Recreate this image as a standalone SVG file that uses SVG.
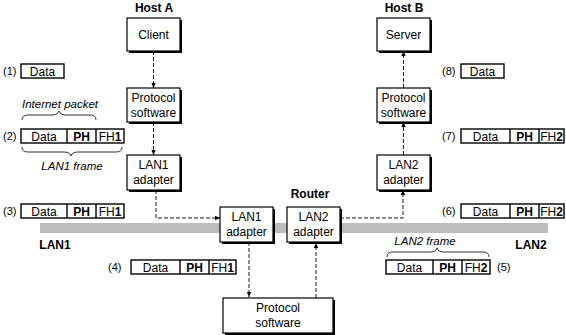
<svg xmlns="http://www.w3.org/2000/svg" width="566" height="335" viewBox="0 0 566 335">
  <style>
    .box { fill: #fff; stroke: #000; stroke-width: 1.2; }
    .shadow { fill: #000; }
    .lbl { font-family: "Liberation Sans", Arial, sans-serif; font-size: 12px; fill: #000; text-anchor: middle; }
    .title { font-family: "Liberation Sans", Arial, sans-serif; font-size: 12px; font-weight: bold; fill: #000; text-anchor: middle; }
    .num { font-family: "Liberation Sans", Arial, sans-serif; font-size: 11px; fill: #000; }
    .cap { font-family: "Liberation Sans", Arial, sans-serif; font-size: 11.5px; font-style: italic; fill: #000; text-anchor: middle; }
    .pkt { fill: #fff; stroke: #000; stroke-width: 1.4; }
    .hdr { font-family: "Liberation Sans", Arial, sans-serif; font-size: 12px; font-weight: bold; fill: #000; text-anchor: middle; }
    .flow { fill: none; stroke: #000; stroke-width: 0.9; stroke-dasharray: 4 2; }
    .brace { fill: none; stroke: #000; stroke-width: 0.8; }
  </style>
  <defs>
    <marker id="arr" viewBox="0 0 8 8" refX="7" refY="4" markerWidth="6" markerHeight="6" orient="auto" markerUnits="userSpaceOnUse">
      <path d="M0,1 L7,4 L0,7 Z" fill="#000"/>
    </marker>
  </defs>

  <!-- LAN segments -->
  <rect x="40" y="223" width="508" height="10" fill="#bdbdbd"/>
  <text class="title" x="55" y="249">LAN1</text>
  <text class="title" x="531" y="249">LAN2</text>

  <!-- Host A -->
  <text class="title" x="154" y="12">Host A</text>
  <g id="client">
    <rect class="shadow" x="129" y="20" width="53" height="33"/>
    <rect class="box" x="127" y="18" width="53" height="33"/>
    <text class="lbl" x="153.5" y="39">Client</text>
  </g>
  <g id="protoA">
    <rect class="shadow" x="129" y="90" width="53" height="34"/>
    <rect class="box" x="127" y="88" width="53" height="34"/>
    <text class="lbl" x="153.5" y="102">Protocol</text>
    <text class="lbl" x="153.5" y="117">software</text>
  </g>
  <g id="lan1A">
    <rect class="shadow" x="129" y="157" width="53" height="35"/>
    <rect class="box" x="127" y="155" width="53" height="35"/>
    <text class="lbl" x="153.5" y="169">LAN1</text>
    <text class="lbl" x="153.5" y="184">adapter</text>
  </g>

  <!-- Host B -->
  <text class="title" x="404" y="12">Host B</text>
  <g id="server">
    <rect class="shadow" x="379" y="20" width="53" height="33"/>
    <rect class="box" x="377" y="18" width="53" height="33"/>
    <text class="lbl" x="403.5" y="39">Server</text>
  </g>
  <g id="protoB">
    <rect class="shadow" x="379" y="90" width="53" height="34"/>
    <rect class="box" x="377" y="88" width="53" height="34"/>
    <text class="lbl" x="403.5" y="102">Protocol</text>
    <text class="lbl" x="403.5" y="117">software</text>
  </g>
  <g id="lan2B">
    <rect class="shadow" x="379" y="157" width="53" height="35"/>
    <rect class="box" x="377" y="155" width="53" height="35"/>
    <text class="lbl" x="403.5" y="169">LAN2</text>
    <text class="lbl" x="403.5" y="184">adapter</text>
  </g>

  <!-- Router -->
  <text class="title" x="310" y="198">Router</text>
  <g id="routerLan1">
    <rect class="shadow" x="222" y="209" width="53" height="35"/>
    <rect class="box" x="220" y="207" width="53" height="35"/>
    <text class="lbl" x="246.5" y="221">LAN1</text>
    <text class="lbl" x="246.5" y="236">adapter</text>
  </g>
  <g id="routerLan2">
    <rect class="shadow" x="289" y="209" width="53" height="35"/>
    <rect class="box" x="287" y="207" width="53" height="35"/>
    <text class="lbl" x="313.5" y="221">LAN2</text>
    <text class="lbl" x="313.5" y="236">adapter</text>
  </g>
  <g id="routerProto">
    <rect class="shadow" x="225" y="300" width="110" height="36"/>
    <rect class="box" x="223" y="298" width="110" height="35"/>
    <text class="lbl" x="278" y="312">Protocol</text>
    <text class="lbl" x="278" y="327">software</text>
  </g>

  <!-- connectors -->
  <g id="connectors">
    <path class="flow" d="M153.5,51 V88" marker-end="url(#arr)"/>
    <path class="flow" d="M153.5,122 V155" marker-end="url(#arr)"/>
    <path class="flow" d="M156,190 V218 H220" marker-end="url(#arr)"/>
    <path class="flow" d="M249,242 V297" marker-end="url(#arr)"/>
    <path class="flow" d="M316,298 V243" marker-end="url(#arr)"/>
    <path class="flow" d="M340,218 H403 V190" marker-end="url(#arr)"/>
    <path class="flow" d="M403.5,155 V122" marker-end="url(#arr)"/>
    <path class="flow" d="M403.5,88 V51" marker-end="url(#arr)"/>
  </g>

  <!-- (1) -->
  <g id="pkt1">
    <text class="num" x="3" y="75">(1)</text>
    <rect class="pkt" x="21" y="64" width="43" height="14"/>
    <text class="lbl" x="42.5" y="75.5">Data</text>
  </g>

  <!-- (2) with brackets -->
  <g id="pkt2">
    <text class="cap" x="60" y="108">Internet packet</text>
    <path class="brace" d="M22,120 Q22,115 28,115 H53 Q58,115 59,111 Q60,115 65,115 H90 Q96,115 96,120"/>
    <text class="num" x="3" y="140">(2)</text>
    <rect class="pkt" x="21" y="129" width="103" height="14"/>
    <line class="pkt" x1="67" y1="129" x2="67" y2="143"/>
    <line class="pkt" x1="96" y1="129" x2="96" y2="143"/>
    <text class="lbl" x="44" y="140.5">Data</text>
    <text class="hdr" x="81.5" y="140.5">PH</text>
    <text class="lbl" x="110" y="140.5">FH<tspan font-weight="bold">1</tspan></text>
    <path class="brace" d="M22,147 Q22,152 28,152 H64 Q70,152 71,156 Q72,152 78,152 H116 Q122,152 122,147"/>
    <text class="cap" x="72" y="170">LAN1 frame</text>
  </g>

  <!-- (3) -->
  <g id="pkt3">
    <text class="num" x="3" y="215">(3)</text>
    <rect class="pkt" x="21" y="204" width="103" height="14"/>
    <line class="pkt" x1="67" y1="204" x2="67" y2="218"/>
    <line class="pkt" x1="96" y1="204" x2="96" y2="218"/>
    <text class="lbl" x="44" y="215.5">Data</text>
    <text class="hdr" x="81.5" y="215.5">PH</text>
    <text class="lbl" x="110" y="215.5">FH<tspan font-weight="bold">1</tspan></text>
  </g>

  <!-- (4) -->
  <g id="pkt4">
    <text class="num" x="108" y="271">(4)</text>
    <rect class="pkt" x="131" y="260" width="105" height="14"/>
    <line class="pkt" x1="180" y1="260" x2="180" y2="274"/>
    <line class="pkt" x1="209" y1="260" x2="209" y2="274"/>
    <text class="lbl" x="155.5" y="271.5">Data</text>
    <text class="hdr" x="194.5" y="271.5">PH</text>
    <text class="lbl" x="222.5" y="271.5">FH<tspan font-weight="bold">1</tspan></text>
  </g>

  <!-- (5) with bracket -->
  <g id="pkt5">
    <text class="cap" x="425" y="245">LAN2 frame</text>
    <path class="brace" d="M387,257 Q387,252 393,252 H430 Q436,252 437,248 Q438,252 444,252 H483 Q489,252 489,257"/>
    <rect class="pkt" x="386" y="260" width="104" height="14"/>
    <line class="pkt" x1="433" y1="260" x2="433" y2="274"/>
    <line class="pkt" x1="462" y1="260" x2="462" y2="274"/>
    <text class="lbl" x="409.5" y="271.5">Data</text>
    <text class="hdr" x="447.5" y="271.5">PH</text>
    <text class="lbl" x="476" y="271.5">FH<tspan font-weight="bold">2</tspan></text>
    <text class="num" x="497" y="271">(5)</text>
  </g>

  <!-- (6) -->
  <g id="pkt6">
    <text class="num" x="442" y="215">(6)</text>
    <rect class="pkt" x="461" y="204" width="103" height="14"/>
    <line class="pkt" x1="510" y1="204" x2="510" y2="218"/>
    <line class="pkt" x1="539" y1="204" x2="539" y2="218"/>
    <text class="lbl" x="485.5" y="215.5">Data</text>
    <text class="hdr" x="524.5" y="215.5">PH</text>
    <text class="lbl" x="551.5" y="215.5">FH<tspan font-weight="bold">2</tspan></text>
  </g>

  <!-- (7) -->
  <g id="pkt7">
    <text class="num" x="442" y="140">(7)</text>
    <rect class="pkt" x="461" y="129" width="103" height="14"/>
    <line class="pkt" x1="510" y1="129" x2="510" y2="143"/>
    <line class="pkt" x1="539" y1="129" x2="539" y2="143"/>
    <text class="lbl" x="485.5" y="140.5">Data</text>
    <text class="hdr" x="524.5" y="140.5">PH</text>
    <text class="lbl" x="551.5" y="140.5">FH<tspan font-weight="bold">2</tspan></text>
  </g>

  <!-- (8) -->
  <g id="pkt8">
    <text class="num" x="442" y="75">(8)</text>
    <rect class="pkt" x="461" y="64" width="43" height="14"/>
    <text class="lbl" x="482.5" y="75.5">Data</text>
  </g>
</svg>
